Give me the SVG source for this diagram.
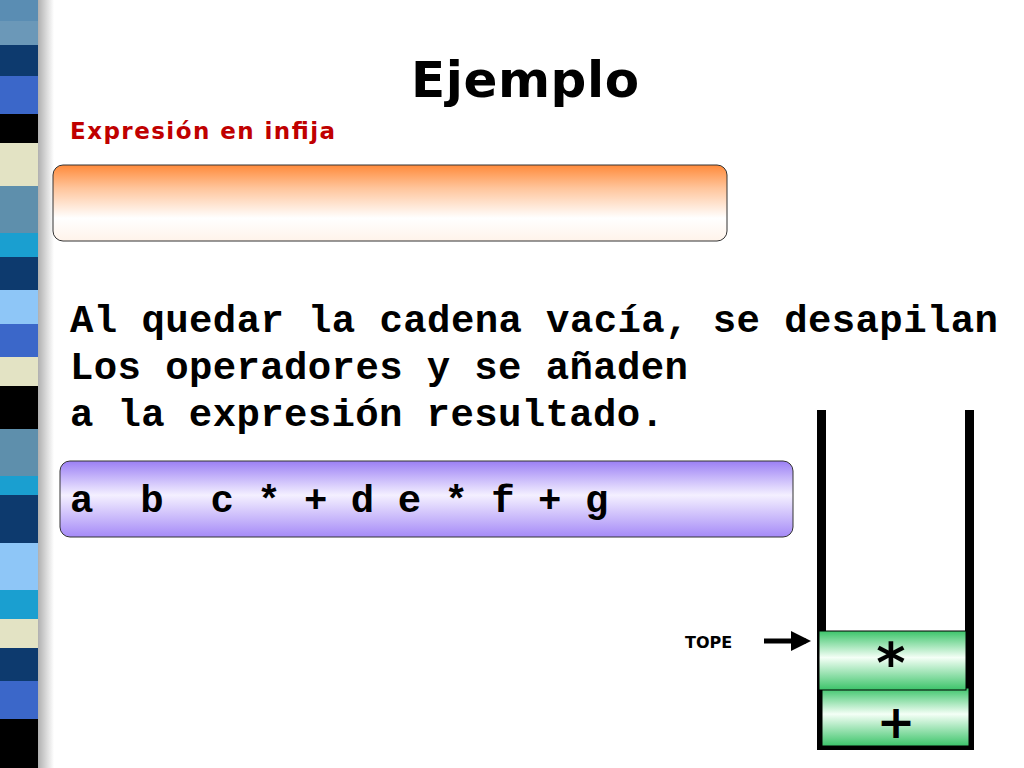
<svg xmlns="http://www.w3.org/2000/svg" width="1024" height="768" viewBox="0 0 1024 768">
<defs>
<linearGradient id="sh" x1="0" x2="1"><stop offset="0" stop-color="#888"/><stop offset="1" stop-color="#fff"/></linearGradient>
<linearGradient id="or" x1="0" y1="0" x2="0" y2="1"><stop offset="0" stop-color="#ff8a3a"/><stop offset="0.3" stop-color="#ffc49a"/><stop offset="0.7" stop-color="#fff"/><stop offset="1" stop-color="#fff3ea"/></linearGradient>
<linearGradient id="pu" x1="0" y1="0" x2="0" y2="1"><stop offset="0" stop-color="#9b7ff5"/><stop offset="0.45" stop-color="#f4f0ff"/><stop offset="1" stop-color="#a58af7"/></linearGradient>
<linearGradient id="gr" x1="0" y1="0" x2="0" y2="1"><stop offset="0" stop-color="#3cc46a"/><stop offset="0.45" stop-color="#f4fff6"/><stop offset="1" stop-color="#3cc46a"/></linearGradient>
<marker id="ar" markerWidth="4" markerHeight="4" refX="3" refY="2" orient="auto"><path d="M0,0 L4,2 L0,4z" fill="#000"/></marker>
</defs>
<style>
.m{font-family:"Liberation Mono","Courier New",monospace;font-weight:bold;font-size:39px;fill:#000}
.s{font-family:"DejaVu Sans",Verdana,sans-serif;font-weight:bold}
</style>
<rect width="1024" height="768" fill="#fff"/>
<g id="border">
<rect x="30" y="0" width="24" height="768" fill="url(#sh)"/>
<rect x="0" y="0" width="38" height="21" fill="#5a8db3"/>
<rect x="0" y="21" width="38" height="24" fill="#6b98b8"/>
<rect x="0" y="45" width="38" height="31" fill="#0d3a6e"/>
<rect x="0" y="76" width="38" height="38" fill="#3b67c9"/>
<rect x="0" y="114" width="38" height="29" fill="#000"/>
<rect x="0" y="143" width="38" height="43" fill="#e3e3c4"/>
<rect x="0" y="186" width="38" height="47" fill="#5e8fac"/>
<rect x="0" y="233" width="38" height="24" fill="#1a9fd0"/>
<rect x="0" y="257" width="38" height="33" fill="#0d3a6e"/>
<rect x="0" y="290" width="38" height="34" fill="#8ec6f7"/>
<rect x="0" y="324" width="38" height="33" fill="#3b67c9"/>
<rect x="0" y="357" width="38" height="29" fill="#e3e3c4"/>
<rect x="0" y="386" width="38" height="43" fill="#000"/>
<rect x="0" y="429" width="38" height="47" fill="#5e8fac"/>
<rect x="0" y="476" width="38" height="19" fill="#1a9fd0"/>
<rect x="0" y="495" width="38" height="48" fill="#0d3a6e"/>
<rect x="0" y="543" width="38" height="47" fill="#8ec6f7"/>
<rect x="0" y="590" width="38" height="29" fill="#1a9fd0"/>
<rect x="0" y="619" width="38" height="29" fill="#e3e3c4"/>
<rect x="0" y="648" width="38" height="33" fill="#0d3a6e"/>
<rect x="0" y="681" width="38" height="38" fill="#3b67c9"/>
<rect x="0" y="719" width="38" height="49" fill="#000"/>
</g>
<text x="525" y="97" text-anchor="middle" class="s" font-size="50" textLength="228">Ejemplo</text>
<text x="70" y="139" class="s" font-size="23" fill="#c00000" textLength="265">Expresión en infija</text>
<g id="infija"><rect x="53" y="165" width="674" height="76" rx="10" fill="url(#or)" stroke="#333" stroke-width="1"/></g>
<text class="m" x="70" y="332" textLength="928">Al quedar la cadena vacía, se desapilan</text>
<text class="m" x="70" y="379" textLength="618">Los operadores y se añaden</text>
<text class="m" x="70" y="426" textLength="594">a la expresión resultado.</text>
<g id="resultado"><rect x="60" y="461" width="733" height="76" rx="10" fill="url(#pu)" stroke="#333" stroke-width="1"/>
<text x="70" y="512" class="m" xml:space="preserve">a  b  c * + d e * f + g</text></g>
<g id="pila">
<rect x="817" y="410" width="9" height="340" fill="#000"/>
<rect x="965" y="410" width="9" height="340" fill="#000"/>
<rect x="817" y="743" width="157" height="7" fill="#000"/>
<g id="plus"><rect x="822" y="688" width="147" height="58" fill="url(#gr)" stroke="#000"/>
<text x="896" y="738" text-anchor="middle" class="s" font-size="46">+</text></g>
<g id="star"><rect x="819" y="631" width="147" height="59" fill="url(#gr)" stroke="#000"/>
<text x="891" y="682" text-anchor="middle" class="s" font-size="56">*</text></g>
</g>
<text x="685" y="648" class="s" font-size="16">TOPE</text>
<g id="connectors"><line x1="764" y1="641" x2="806" y2="641" stroke="#000" stroke-width="5" marker-end="url(#ar)"/></g>
</svg>
